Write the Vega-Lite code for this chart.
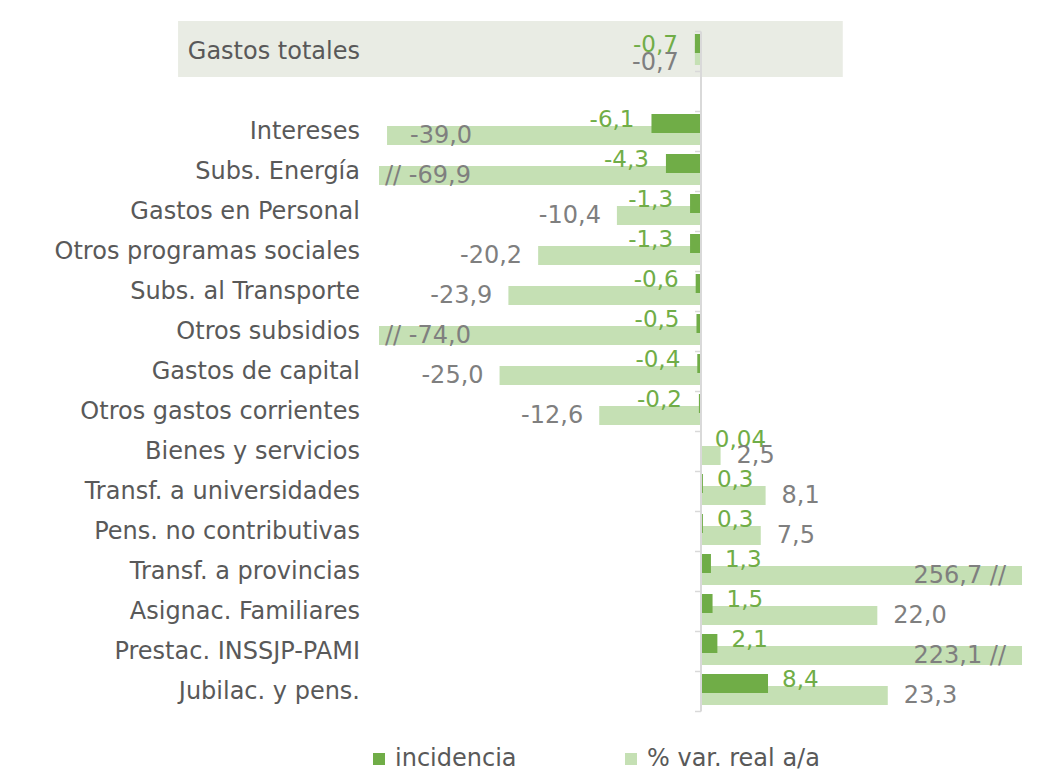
{
  "$schema": "https://vega.github.io/schema/vega-lite/v6.json",
  "autosize": "none",
  "width": 643,
  "height": 680,
  "padding": {"left": 379, "top": 31, "right": 30, "bottom": 67},
  "config": {"view": {"stroke": null}, "font": "DejaVu Sans"},
  "data": {
    "values": [
      {"cat": "Gastos totales", "inc": -0.7, "var": -0.7, "li": "-0,7", "lv": "-0,7"},
      {"cat": "Intereses", "inc": -6.1, "var": -39.0, "li": "-6,1", "lv": "-39,0"},
      {"cat": "Subs. Energía", "inc": -4.3, "var": -69.9, "li": "-4,3", "lv": "// -69,9"},
      {"cat": "Gastos en Personal", "inc": -1.3, "var": -10.4, "li": "-1,3", "lv": "-10,4"},
      {"cat": "Otros programas sociales", "inc": -1.3, "var": -20.2, "li": "-1,3", "lv": "-20,2"},
      {"cat": "Subs. al Transporte", "inc": -0.6, "var": -23.9, "li": "-0,6", "lv": "-23,9"},
      {"cat": "Otros subsidios", "inc": -0.5, "var": -74.0, "li": "-0,5", "lv": "// -74,0"},
      {"cat": "Gastos de capital", "inc": -0.4, "var": -25.0, "li": "-0,4", "lv": "-25,0"},
      {"cat": "Otros gastos corrientes", "inc": -0.2, "var": -12.6, "li": "-0,2", "lv": "-12,6"},
      {"cat": "Bienes y servicios", "inc": 0.04, "var": 2.5, "li": "0,04", "lv": "2,5"},
      {"cat": "Transf. a universidades", "inc": 0.3, "var": 8.1, "li": "0,3", "lv": "8,1"},
      {"cat": "Pens. no contributivas", "inc": 0.3, "var": 7.5, "li": "0,3", "lv": "7,5"},
      {"cat": "Transf. a provincias", "inc": 1.3, "var": 256.7, "li": "1,3", "lv": "256,7 //"},
      {"cat": "Asignac. Familiares", "inc": 1.5, "var": 22.0, "li": "1,5", "lv": "22,0"},
      {"cat": "Prestac. INSSJP-PAMI", "inc": 2.1, "var": 223.1, "li": "2,1", "lv": "223,1 //"},
      {"cat": "Jubilac. y pens.", "inc": 8.4, "var": 23.3, "li": "8,4", "lv": "23,3"}
    ]
  },
  "encoding": {
    "y": {
      "field": "cat",
      "type": "nominal",
      "scale": {
        "domain": ["Gastos totales", " ", "Intereses", "Subs. Energía", "Gastos en Personal", "Otros programas sociales", "Subs. al Transporte", "Otros subsidios", "Gastos de capital", "Otros gastos corrientes", "Bienes y servicios", "Transf. a universidades", "Pens. no contributivas", "Transf. a provincias", "Asignac. Familiares", "Prestac. INSSJP-PAMI", "Jubilac. y pens."],
        "paddingInner": 0,
        "paddingOuter": 0
      },
      "axis": {
        "orient": "left",
        "offset": -321.5,
        "title": null,
        "grid": false,
        "zindex": 1,
        "domain": true,
        "domainColor": "#d9d9d9",
        "domainWidth": 2,
        "ticks": true,
        "tickBand": "extent",
        "tickColor": "#d9d9d9",
        "tickWidth": 1.5,
        "tickSize": 6,
        "labelPadding": 335,
        "labelLimit": 0,
        "labelFont": "DejaVu Sans",
        "labelFontSize": 24,
        "labelColor": "#595959",
        "labelAlign": "right",
        "labelBaseline": "middle"
      }
    }
  },
  "layer": [
    {
      "transform": [{"filter": "datum.cat === 'Gastos totales'"}],
      "mark": {"type": "bar", "height": 56, "yOffset": -2, "color": "#e9ece4"},
      "encoding": {
        "x": {"datum": -65.0, "type": "quantitative", "scale": {"domain": [-40, 40], "nice": false, "zero": false}, "axis": null},
        "x2": {"datum": 17.7}
      }
    },
    {
      "layer": [
        {
          "mark": {"type": "bar", "height": 19, "yOffset": 4.5},
          "encoding": {
            "x": {"field": "var", "type": "quantitative", "scale": {"domain": [-40, 40], "nice": false, "clamp": true}, "axis": null},
            "color": {"datum": "% var. real a/a", "type": "nominal", "scale": {"domain": ["incidencia", "% var. real a/a"], "range": ["#70ad47", "#c5e0b4"]},
              "legend": {"orient": "none", "legendX": -12, "legendY": 716, "direction": "horizontal", "title": null, "symbolType": "square", "symbolSize": 144, "symbolStrokeWidth": 0, "labelFont": "DejaVu Sans", "labelFontSize": 24, "labelLimit": 0, "labelColor": "#595959", "columnPadding": 102, "labelOffset": 4}}
          }
        },
        {
          "mark": {"type": "bar", "height": 19, "yOffset": -7.5},
          "encoding": {
            "x": {"field": "inc", "type": "quantitative", "scale": {"domain": [-40, 40], "nice": false, "clamp": true}, "axis": null},
            "color": {"datum": "incidencia", "type": "nominal"}
          }
        },
        {
          "transform": [{"filter": "datum.inc < 0 && datum.cat !== 'Gastos totales'"}],
          "mark": {"type": "text", "align": "right", "baseline": "middle", "dx": -17, "yOffset": -11, "color": "#70ad47", "fontSize": 23, "font": "DejaVu Sans"},
          "encoding": {"x": {"field": "inc", "type": "quantitative"}, "text": {"field": "li"}}
        },
        {
          "transform": [{"filter": "datum.cat === 'Gastos totales'"}],
          "mark": {"type": "text", "align": "right", "baseline": "middle", "dx": -17, "yOffset": -6, "color": "#70ad47", "fontSize": 23, "font": "DejaVu Sans"},
          "encoding": {"x": {"field": "inc", "type": "quantitative"}, "text": {"field": "li"}}
        },
        {
          "transform": [{"filter": "datum.inc >= 0"}],
          "mark": {"type": "text", "align": "left", "baseline": "middle", "dx": 14, "yOffset": -11, "color": "#70ad47", "fontSize": 23, "font": "DejaVu Sans"},
          "encoding": {"x": {"field": "inc", "type": "quantitative"}, "text": {"field": "li"}}
        },
        {
          "transform": [{"filter": "datum.var < 0 && datum.var > -38 && datum.cat !== 'Gastos totales'"}],
          "mark": {"type": "text", "align": "right", "baseline": "middle", "dx": -16, "yOffset": 4.5, "color": "#7f7f7f", "fontSize": 24, "font": "DejaVu Sans"},
          "encoding": {"x": {"field": "var", "type": "quantitative"}, "text": {"field": "lv"}}
        },
        {
          "transform": [{"filter": "datum.cat === 'Gastos totales'"}],
          "mark": {"type": "text", "align": "right", "baseline": "middle", "dx": -16, "yOffset": 12, "color": "#7f7f7f", "fontSize": 24, "font": "DejaVu Sans"},
          "encoding": {"x": {"field": "var", "type": "quantitative"}, "text": {"field": "lv"}}
        },
        {
          "transform": [{"filter": "datum.var >= 0 && datum.var < 38"}],
          "mark": {"type": "text", "align": "left", "baseline": "middle", "dx": 16, "yOffset": 4.5, "color": "#7f7f7f", "fontSize": 24, "font": "DejaVu Sans"},
          "encoding": {"x": {"field": "var", "type": "quantitative"}, "text": {"field": "lv"}}
        },
        {
          "transform": [{"filter": "datum.var <= -38 && datum.var >= -40"}],
          "mark": {"type": "text", "align": "left", "baseline": "middle", "dx": 23, "yOffset": 4.5, "color": "#7f7f7f", "fontSize": 24, "font": "DejaVu Sans"},
          "encoding": {"x": {"field": "var", "type": "quantitative"}, "text": {"field": "lv"}}
        },
        {
          "transform": [{"filter": "datum.var < -40"}],
          "mark": {"type": "text", "align": "left", "baseline": "middle", "dx": 6, "yOffset": 4.5, "color": "#7f7f7f", "fontSize": 24, "font": "DejaVu Sans"},
          "encoding": {"x": {"field": "var", "type": "quantitative"}, "text": {"field": "lv"}}
        },
        {
          "transform": [{"filter": "datum.var >= 38"}],
          "mark": {"type": "text", "align": "right", "baseline": "middle", "dx": -16, "yOffset": 4.5, "color": "#7f7f7f", "fontSize": 24, "font": "DejaVu Sans"},
          "encoding": {"x": {"field": "var", "type": "quantitative"}, "text": {"field": "lv"}}
        }
      ]
    }
  ],
  "resolve": {"scale": {"x": "independent"}}
}
